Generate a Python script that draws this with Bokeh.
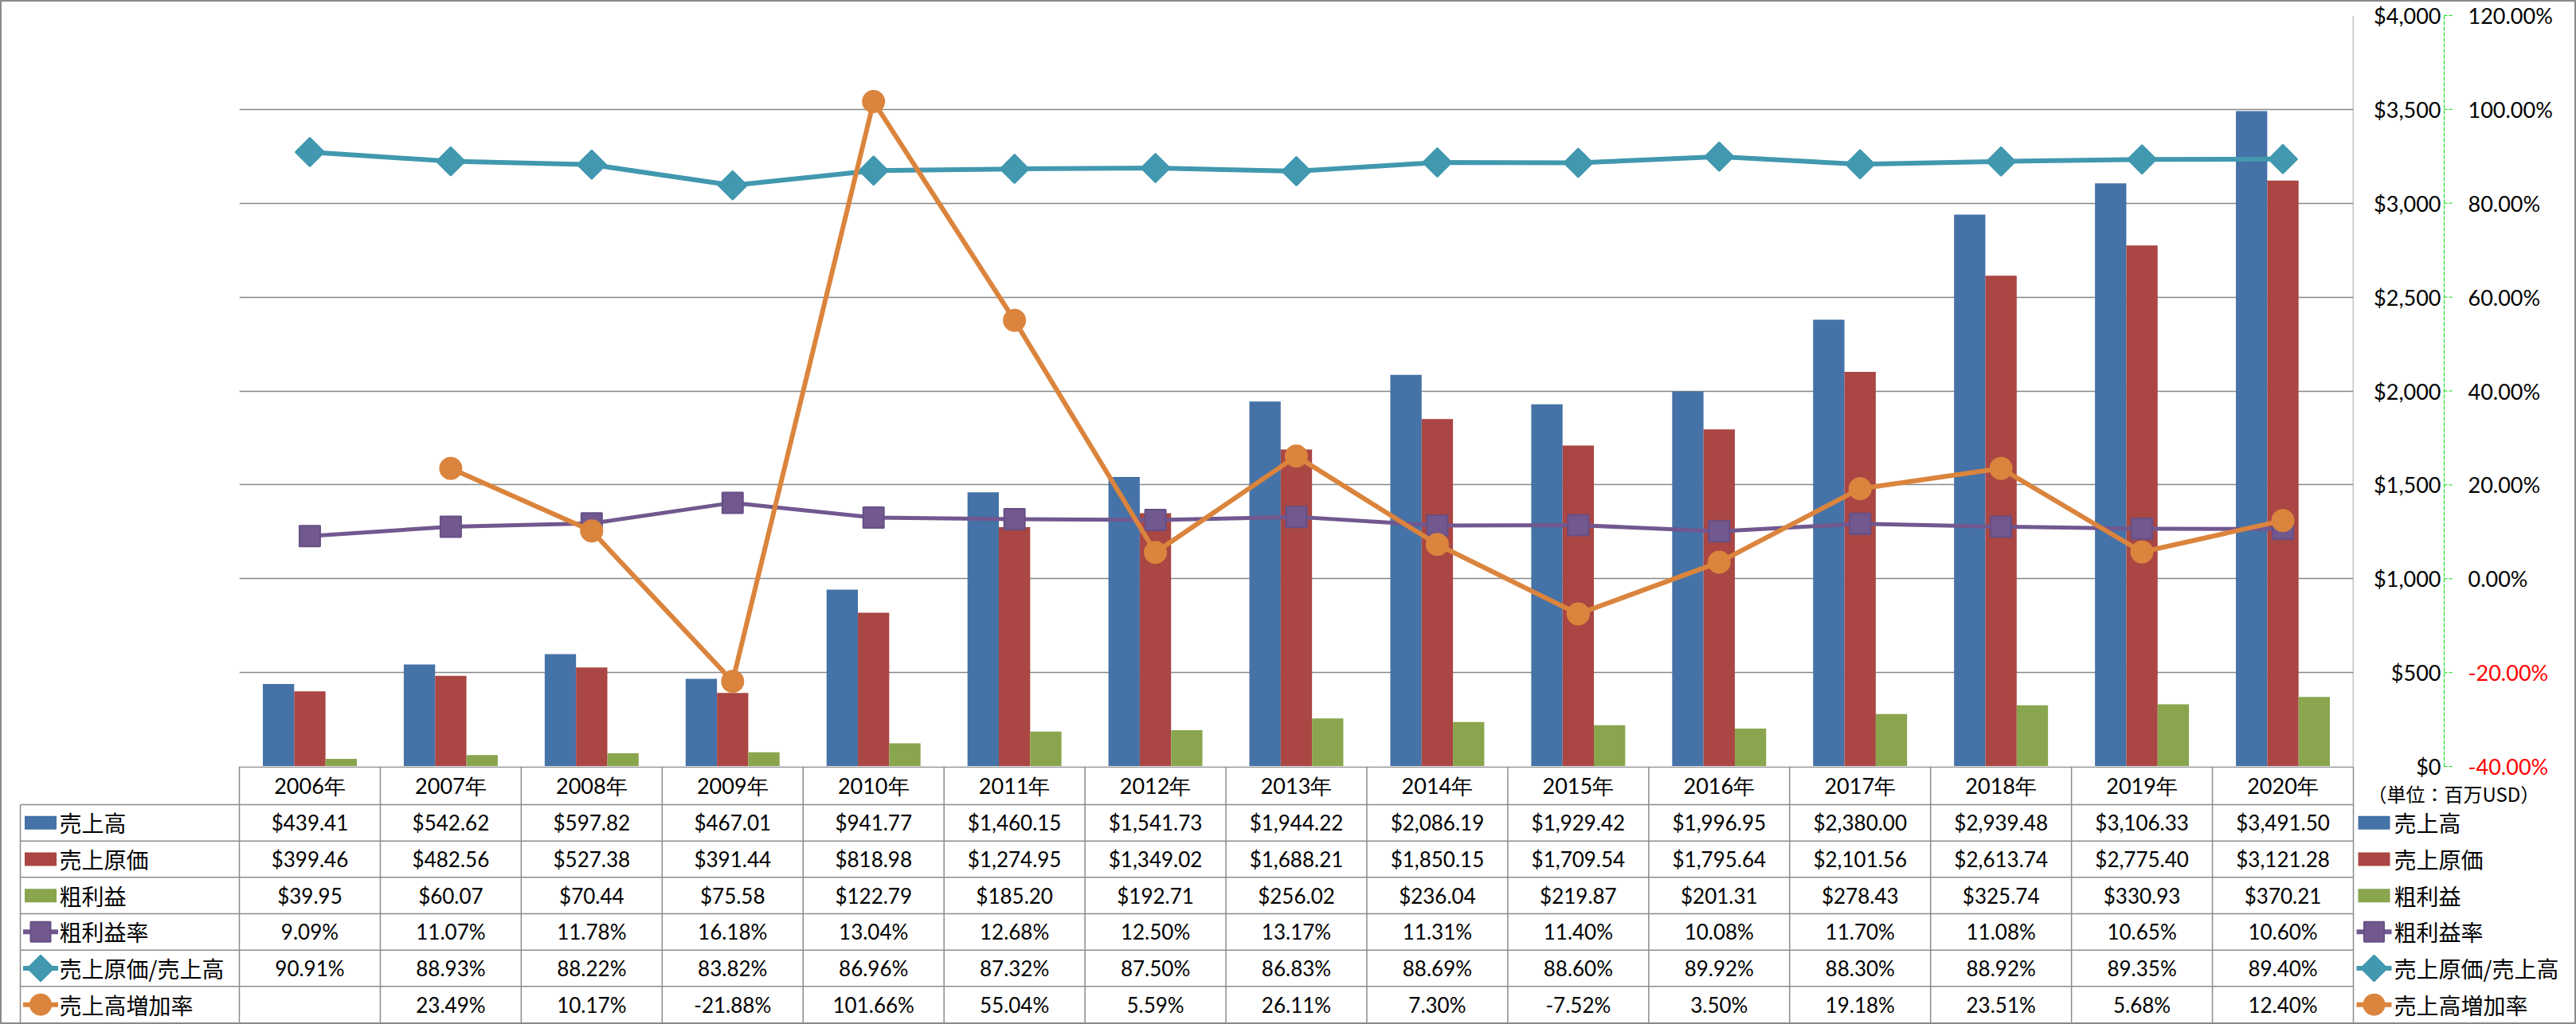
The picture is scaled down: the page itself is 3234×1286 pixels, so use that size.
import math
from bokeh.plotting import figure
from bokeh.models import FactorRange, Range1d, FixedTicker, Span, ColumnDataSource
from bokeh.transform import dodge
from bokeh.layouts import column, row
from bokeh.embed import file_html
from bokeh.resources import INLINE
from bokeh.core.properties import value

# ---------------- data ----------------
years = ["2006年", "2007年", "2008年", "2009年", "2010年", "2011年", "2012年", "2013年",
         "2014年", "2015年", "2016年", "2017年", "2018年", "2019年", "2020年"]
sales = [439.41, 542.62, 597.82, 467.01, 941.77, 1460.15, 1541.73, 1944.22,
         2086.19, 1929.42, 1996.95, 2380.00, 2939.48, 3106.33, 3491.50]
cost = [399.46, 482.56, 527.38, 391.44, 818.98, 1274.95, 1349.02, 1688.21,
        1850.15, 1709.54, 1795.64, 2101.56, 2613.74, 2775.40, 3121.28]
gross = [39.95, 60.07, 70.44, 75.58, 122.79, 185.20, 192.71, 256.02,
         236.04, 219.87, 201.31, 278.43, 325.74, 330.93, 370.21]
gross_margin = [9.09, 11.07, 11.78, 16.18, 13.04, 12.68, 12.50, 13.17,
                11.31, 11.40, 10.08, 11.70, 11.08, 10.65, 10.60]
cost_ratio = [90.91, 88.93, 88.22, 83.82, 86.96, 87.32, 87.50, 86.83,
              88.69, 88.60, 89.92, 88.30, 88.92, 89.35, 89.40]
growth = [None, 23.49, 10.17, -21.88, 101.66, 55.04, 5.59, 26.11,
          7.30, -7.52, 3.50, 19.18, 23.51, 5.68, 12.40]

series_names = ["売上高", "売上原価", "粗利益", "粗利益率", "売上原価/売上高", "売上高増加率"]
usd_ticks = [0, 500, 1000, 1500, 2000, 2500, 3000, 3500, 4000]
pct_ticks = [-40, -20, 0, 20, 40, 60, 80, 100, 120]
unit_note = "（単位：百万USD）"

# ---------------- style / layout ----------------
BLUE, RED, GREEN = "#4572A7", "#AA4643", "#89A54E"
PURPLE, TEAL, ORANGE = "#71588F", "#4198AF", "#DB843D"
PURPLE_EDGE = "#664F85"
GRID, TABLE = "#878787", "#8C8C8C"
AXIS_GREEN = "#00E000"
NUM_FONT = "Lato"
JP_FONT = "Noto Sans CJK JP"

W_TOTAL, H_TOTAL = 3230, 1282          # inside a 2px border
FRAME_L, FRAME_R = 298, 2952
TOP = 17
A_H = 960
B_H = H_TOTAL - A_H
LEFT_W = FRAME_R + 2
HEADER_H = 48
ROW_H = (B_H - HEADER_H) / 6

# ---------------- main chart ----------------
xr = FactorRange(*years)
usd = Range1d(0, 4000)
pct = Range1d(-40, 120)

src = ColumnDataSource(dict(
    year=years, sales=sales, cost=cost, gross=gross,
    gm=gross_margin, cr=cost_ratio,
    gr=[float("nan") if g is None else g for g in growth]))

pa = figure(width=LEFT_W, height=A_H, x_range=xr, y_range=usd,
            x_axis_location=None, y_axis_location=None,
            min_border_left=FRAME_L, min_border_right=LEFT_W - FRAME_R,
            min_border_top=TOP, min_border_bottom=0,
            output_backend="svg", toolbar_location=None)
pa.extra_y_ranges = {"pct": pct}
pa.outline_line_color = None
pa.xgrid.visible = False
pa.ygrid.ticker = FixedTicker(ticks=usd_ticks)
pa.ygrid.grid_line_color = GRID
pa.ygrid.grid_line_width = 1.5

bw = 1 / 4.5
for field, off, col in [("sales", -bw, BLUE), ("cost", 0.0, RED), ("gross", bw, GREEN)]:
    pa.vbar(x=dodge("year", off, range=xr), top=field, width=bw, source=src,
            fill_color=col, line_color=None)

line_specs = [("gm", PURPLE, PURPLE_EDGE, "square", 26, 0.0, 5),
              ("cr", TEAL, TEAL, "square", 25.5, math.pi / 4, 6),
              ("gr", ORANGE, ORANGE, "circle", 27, 0.0, 6)]
for field, col, lc, mk, sz, ang, lw in line_specs:
    pa.line("year", field, source=src, y_range_name="pct", line_color=col,
            line_width=lw, line_join="round")
    pa.scatter("year", field, source=src, y_range_name="pct", marker=mk, size=sz,
               angle=ang, fill_color=col, line_color=lc, line_width=2)

pa.add_layout(Span(location=len(years), dimension="height", line_color=GRID, line_width=1.5))

# ---------------- data table ----------------
colw = (FRAME_R - FRAME_L) / len(years)
pc = figure(width=LEFT_W, height=B_H,
            x_range=Range1d(-FRAME_L / colw, (LEFT_W - FRAME_L) / colw),
            y_range=Range1d(B_H, 0), min_border=0,
            min_border_left=0, min_border_right=0, min_border_top=0, min_border_bottom=0,
            x_axis_location=None, y_axis_location=None,
            output_backend="svg", toolbar_location=None)
pc.extra_x_ranges = {"px": Range1d(0, LEFT_W)}
pc.outline_line_color = None
pc.grid.visible = False

nrows = len(series_names)
ncols = len(years)
row_mid = [HEADER_H + (r + 0.5) * ROW_H for r in range(nrows)]
lbl_left = (23 - FRAME_L) / colw

sx0, sy0, sx1, sy1 = [], [], [], []
sx0.append(0); sy0.append(0.75); sx1.append(ncols); sy1.append(0.75)
for r in range(nrows):
    yy = HEADER_H + r * ROW_H
    sx0.append(lbl_left); sy0.append(yy); sx1.append(ncols); sy1.append(yy)
for c in range(ncols + 1):
    sx0.append(c); sy0.append(0); sx1.append(c); sy1.append(B_H)
sx0.append(lbl_left); sy0.append(HEADER_H); sx1.append(lbl_left); sy1.append(B_H)
pc.segment(x0=sx0, y0=sy0, x1=sx1, y1=sy1, line_color=TABLE, line_width=1.5)

pc.text(x=[i + 0.5 for i in range(ncols)], y=[HEADER_H / 2] * ncols, text=years,
        text_font=value(NUM_FONT), text_font_size=value("27px"),
        text_align="center", text_baseline="middle", text_color="black")


def money(v):
    return f"${v:,.2f}"


def pct_fmt(v):
    return "" if v is None else f"{v:.2f}%"


rows = [[money(v) for v in sales], [money(v) for v in cost], [money(v) for v in gross],
        [pct_fmt(v) for v in gross_margin], [pct_fmt(v) for v in cost_ratio],
        [pct_fmt(v) for v in growth]]
tx, ty, tt = [], [], []
for r, vals in enumerate(rows):
    for i, s in enumerate(vals):
        tx.append(i + 0.5); ty.append(row_mid[r]); tt.append(s)
pc.text(x=tx, y=ty, text=tt, text_font=value(NUM_FONT), text_font_size=value("26px"),
        text_align="center", text_baseline="middle", text_color="black")

key_cols = [BLUE, RED, GREEN, PURPLE, TEAL, ORANGE]
marker_specs = [None, None, None, ("square", 25, 0.0, PURPLE_EDGE),
                ("square", 23, math.pi / 4, TEAL), ("circle", 26, 0.0, ORANGE)]


def draw_legend(fig, kx, txx, xname, yname):
    for r, (col, ms) in enumerate(zip(key_cols, marker_specs)):
        yy = row_mid[r]
        if ms is None:
            fig.rect(x=[kx], y=[yy], width=40, height=17, width_units="screen",
                     height_units="screen", fill_color=col, line_color=None,
                     x_range_name=xname, y_range_name=yname)
        else:
            mk, sz, ang, lc = ms
            fig.segment(x0=[kx - 22], y0=[yy], x1=[kx + 22], y1=[yy], line_color=col,
                        line_width=6, x_range_name=xname, y_range_name=yname)
            fig.scatter(x=[kx], y=[yy], marker=mk, size=sz, angle=ang, fill_color=col,
                        line_color=lc, line_width=2, x_range_name=xname, y_range_name=yname)
    fig.text(x=[txx] * nrows, y=row_mid, text=series_names,
             text_font=value(JP_FONT), text_font_size=value("28px"),
             text_align="left", text_baseline="middle", text_color="black",
             x_range_name=xname, y_range_name=yname)


draw_legend(pc, 48.5, 72, "px", "default")

# ---------------- right strip: axes labels, legend ----------------
W_STRIP = W_TOTAL - LEFT_W
px_per_usd = (A_H - TOP) / 4000
px_per_pct = (A_H - TOP) / 160
strip = figure(width=W_STRIP, height=H_TOTAL, x_range=Range1d(LEFT_W, W_TOTAL),
               y_range=Range1d(-(H_TOTAL - A_H) / px_per_usd, 4000 + TOP / px_per_usd),
               min_border=0,
               min_border_left=0, min_border_right=0, min_border_top=0, min_border_bottom=0,
               x_axis_location=None, y_axis_location=None,
               output_backend="svg", toolbar_location=None)
strip.extra_y_ranges = {
    "pct": Range1d(-40 - (H_TOTAL - A_H) / px_per_pct, 120 + TOP / px_per_pct),
    "rows": Range1d(B_H, -A_H),
}
strip.outline_line_color = None
strip.grid.visible = False

AX_X = 3066
strip.text(x=[3062] * len(usd_ticks), y=usd_ticks, text=[f"${t:,}" for t in usd_ticks],
           text_font=value(NUM_FONT), text_font_size=value("27px"),
           text_align="right", text_baseline="middle", text_color="black")
strip.segment(x0=[AX_X], y0=[pct_ticks[0]], x1=[AX_X], y1=[pct_ticks[-1]], y_range_name="pct",
              line_color=AXIS_GREEN, line_width=1, line_dash="5 2")
strip.segment(x0=[AX_X] * len(pct_ticks), y0=pct_ticks, x1=[AX_X + 10] * len(pct_ticks),
              y1=pct_ticks, y_range_name="pct", line_color=AXIS_GREEN, line_width=1,
              line_dash="4 2")
pct_src = ColumnDataSource(dict(
    x=[3096] * len(pct_ticks), y=pct_ticks, t=[f"{t:.2f}%" for t in pct_ticks],
    c=["#FF0000" if t < 0 else "black" for t in pct_ticks]))
strip.text(x="x", y="y", text="t", text_color="c", source=pct_src, y_range_name="pct",
           text_font=value(NUM_FONT), text_font_size=value("27px"),
           text_align="left", text_baseline="middle")

draw_legend(strip, 2978, 3003, "default", "rows")
strip.text(x=[2970], y=[34], text=[unit_note], y_range_name="rows",
           text_font=value(JP_FONT), text_font_size=value("24px"),
           text_align="left", text_baseline="middle", text_color="black")

layout = row(column(row(pa), row(pc)), strip,
             styles={"border": "2px solid #898989"})

open("out.html", "w").write(file_html(layout, INLINE))
